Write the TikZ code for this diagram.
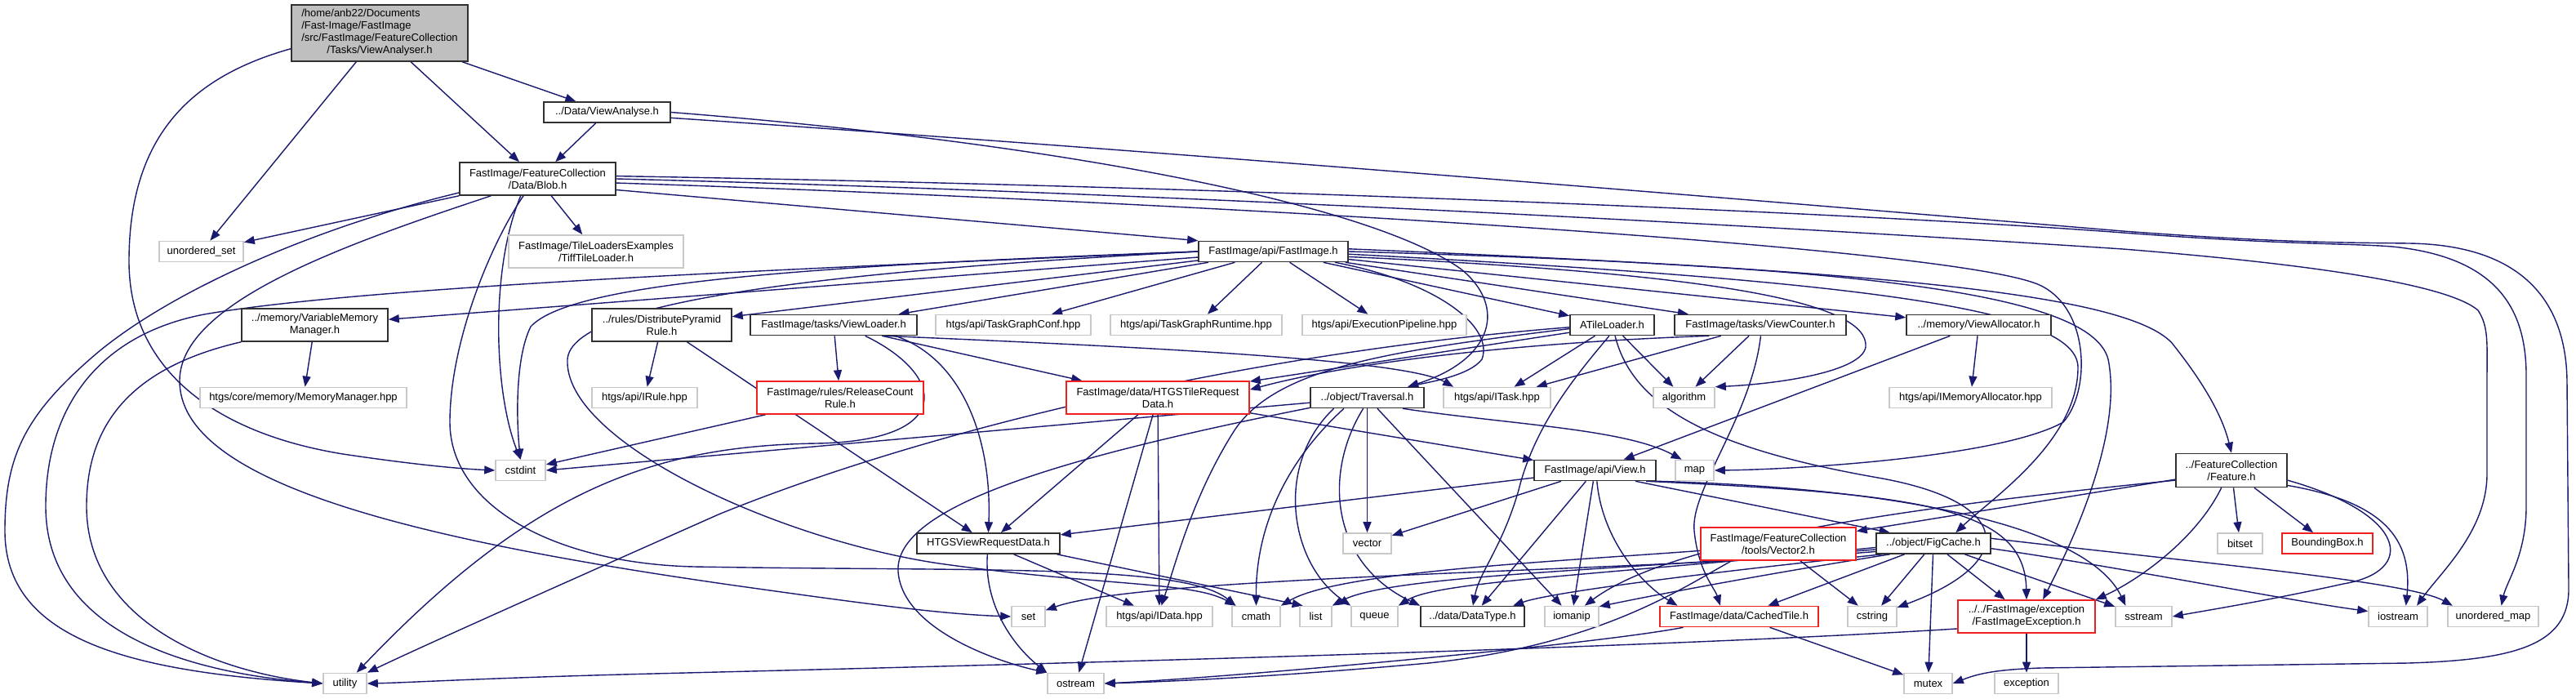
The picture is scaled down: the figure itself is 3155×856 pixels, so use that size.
\documentclass[tikz,border=0pt]{standalone}
\usepackage{fontspec}
\setmainfont{Liberation Sans}
\usetikzlibrary{arrows.meta}
\definecolor{edgeblue}{HTML}{191970}
\definecolor{boxgray}{HTML}{BFBFBF}
\definecolor{lightframe}{HTML}{C8C8C8}
\definecolor{darkframe}{HTML}{303030}
\definecolor{redframe}{HTML}{F02020}
\newcommand\nodefont{\fontsize{13}{15}\selectfont}
\pgfdeclarelayer{paper}
\pgfdeclarelayer{edges}
\pgfsetlayers{paper,edges,main}
\tikzset{
  base/.style={rectangle, inner sep=0pt, align=center, font=\nodefont, line width=1.6pt, fill=white},
  nb/.style={base, draw=darkframe},
  ng/.style={base, draw=lightframe},
  nr/.style={base, draw=redframe},
  sz/.style 2 args={minimum width=#1pt, minimum height=#2pt},
  e/.style={draw=edgeblue, line width=1.4pt, line join=round, -{Triangle[length=13pt,width=10pt]}},
}
\begin{document}
\begin{tikzpicture}[x=1pt,y=-1pt]
\begin{pgfonlayer}{paper}
\fill[white] (0,0) rectangle (3155,856);
\end{pgfonlayer}
\useasboundingbox (0,0) rectangle (3155,856);

% row 0-3
\node[nb,fill=boxgray,sz={216}{69}] (root) at (465,40.5) {\begin{tabular}{@{}l@{}}/home/anb22/Documents\\/Fast-Image/FastImage\\/src/FastImage/FeatureCollection\\\multicolumn{1}{@{}c@{}}{/Tasks/ViewAnalyser.h}\end{tabular}};
\node[nb,sz={155}{25}] (va) at (743.5,137.5) {../Data/ViewAnalyse.h};
\node[nb,sz={191}{40}] (blob) at (658.5,219) {FastImage/FeatureCollection\\/Data/Blob.h};
\node[ng,sz={103}{25}] (uset) at (246.5,308) {unordered\_set};
\node[ng,sz={214}{40}] (tiff) at (730,308) {FastImage/TileLoadersExamples\\/TiffTileLoader.h};
\node[nb,sz={183}{25}] (fi) at (1559.5,308) {FastImage/api/FastImage.h};
% row 4
\node[nb,sz={179}{40}] (vmm) at (385.5,398) {../memory/VariableMemory\\Manager.h};
\node[nb,sz={171}{40}] (dpr) at (810.5,398) {../rules/DistributePyramid\\Rule.h};
\node[nb,sz={204}{25}] (vl) at (1021,398) {FastImage/tasks/ViewLoader.h};
\node[ng,sz={190}{25}] (tgc) at (1241,398) {htgs/api/TaskGraphConf.hpp};
\node[ng,sz={210}{25}] (tgr) at (1465,398) {htgs/api/TaskGraphRuntime.hpp};
\node[ng,sz={201}{25}] (ep) at (1695.5,398) {htgs/api/ExecutionPipeline.hpp};
\node[nb,sz={103}{25}] (atl) at (1974.5,398) {ATileLoader.h};
\node[nb,sz={210}{25}] (vc) at (2156,398) {FastImage/tasks/ViewCounter.h};
\node[nb,sz={177}{25}] (valloc) at (2423.5,398) {../memory/ViewAllocator.h};
% row 5
\node[ng,sz={253}{25}] (mm) at (371.5,487) {htgs/core/memory/MemoryManager.hpp};
\node[ng,sz={129}{25}] (irule) at (789.5,487) {htgs/api/IRule.hpp};
\node[nr,sz={204}{40}] (rcr) at (1029,487) {FastImage/rules/ReleaseCount\\Rule.h};
\node[nr,sz={224}{40}] (htr) at (1418,487) {FastImage/data/HTGSTileRequest\\Data.h};
\node[nb,sz={139}{25}] (trav) at (1674.5,487) {../object/Traversal.h};
\node[ng,sz={131}{25}] (itask) at (1833.5,487) {htgs/api/ITask.hpp};
\node[ng,sz={75}{25}] (algo) at (2062.5,487) {algorithm};
\node[ng,sz={199}{25}] (ima) at (2413.5,487) {htgs/api/IMemoryAllocator.hpp};
% row 6
\node[ng,sz={61}{25}] (cstdint) at (637.5,576) {cstdint};
\node[nb,sz={149}{25}] (view) at (1953.5,576) {FastImage/api/View.h};
\node[ng,sz={47}{25}] (map) at (2075.5,576) {map};
\node[nb,sz={136}{41}] (feat) at (2733,576) {../FeatureCollection\\/Feature.h};
% row 7
\node[nb,sz={175}{25}] (hvrd) at (1210.5,665.5) {HTGSViewRequestData.h};
\node[ng,sz={59}{25}] (vector) at (1674.5,665.5) {vector};
\node[nr,sz={190}{40}] (vec2) at (2178,666) {FastImage/FeatureCollection\\/tools/Vector2.h};
\node[nb,sz={140}{25}] (fig) at (2368,665.5) {../object/FigCache.h};
\node[ng,sz={55}{25}] (bitset) at (2743.5,665.5) {bitset};
\node[nr,sz={111}{25}] (bbox) at (2850.5,665.5) {BoundingBox.h};
% row 8
\node[ng,sz={41}{25}] (set) at (1259.5,755) {set};
\node[ng,sz={130}{25}] (idata) at (1420,755) {htgs/api/IData.hpp};
\node[ng,sz={59}{25}] (cmath) at (1538.5,755) {cmath};
\node[ng,sz={39}{25}] (list) at (1611.5,755) {list};
\node[ng,sz={57}{25}] (queue) at (1683.5,755) {queue};
\node[nb,sz={127}{25}] (dtype) at (1803.5,755) {../data/DataType.h};
\node[ng,sz={66}{25}] (iomanip) at (1925,755) {iomanip};
\node[nr,sz={194}{25}] (ctile) at (2130,755) {FastImage/data/CachedTile.h};
\node[ng,sz={60}{25}] (cstring) at (2293,755) {cstring};
\node[nr,sz={168}{40}] (fie) at (2482,755) {../../FastImage/exception\\/FastImageException.h};
\node[ng,sz={69}{25}] (sstream) at (2625.5,755) {sstream};
\node[ng,sz={72}{25}] (iostream) at (2937,755) {iostream};
\node[ng,sz={111}{25}] (umap) at (3053.5,755) {unordered\_map};
% row 9
\node[ng,sz={53}{25}] (utility) at (422.5,837) {utility};
\node[ng,sz={69}{25}] (ostream) at (1317.5,837) {ostream};
\node[ng,sz={59}{25}] (mutex) at (2361.5,837) {mutex};
\node[ng,sz={78}{25}] (exception) at (2482,837) {exception};

\begin{pgfonlayer}{edges}
% root
\draw[e] (root) -- (va);
\draw[e] (root) -- (blob);
\draw[e] (root) -- (uset);
\draw[e] (root.190) .. controls (230,95) and (158,170) .. (158,320) .. controls (158,450) and (260,530) .. (420,556) .. controls (500,568) and (560,574) .. (cstdint.west);
% va
\draw[e] (va) -- (blob);
\draw[e] (va.east) .. controls (1300,175) and (1680,250) .. (1790,330) .. controls (1845,375) and (1830,440) .. (trav.15);
\draw[e] (va.-5) .. controls (1500,190) and (2300,258) .. (2600,283) .. controls (2800,298) and (2880,297) .. (2950,298) .. controls (3100,300) and (3144,380) .. (3144,470) -- (3146,720) .. controls (3147,790) and (3080,808) .. (2950,812) -- (2500,818) .. controls (2440,820) and (2420,826) .. (mutex.east);
% blob
\draw[e] (blob) -- (uset);
\draw[e] (blob) -- (tiff);
\draw[e] (blob.-8) -- (fi.north west);
\draw[e] (blob.-135) .. controls (600,330) and (605,480) .. (cstdint.north);
\draw[e] (blob.-130) .. controls (600,300) and (551,420) .. (551,517) .. controls (551,620) and (680,690) .. (850,694) .. controls (1200,700) and (1450,690) .. (cmath.152);
\draw[e] (blob.-160) .. controls (420,300) and (222,370) .. (220,465) .. controls (218,590) and (500,660) .. (900,717) .. controls (1050,738) and (1150,752) .. (set.west);
\draw[e] (blob.-170) .. controls (380,280) and (200,360) .. (110,440) .. controls (30,510) and (6,560) .. (6,650) .. controls (6,780) and (150,822) .. (utility.west);
\draw[e] (blob.2) .. controls (1500,228) and (2300,262) .. (2600,285) .. controls (2800,300) and (2880,298) .. (2930,302) .. controls (3060,315) and (3094,380) .. (3094,460) -- (3094,620) .. controls (3094,680) and (3070,712) .. (umap.53);
\draw[e] (blob.0) .. controls (1500,238) and (2300,285) .. (2600,305) .. controls (2850,325) and (3000,350) .. (3035,380) .. controls (3048,400) and (3046,420) .. (3046,460) -- (3046,580) .. controls (3046,650) and (2990,700) .. (iostream.30);
\draw[e] (blob.-3) .. controls (1400,245) and (2400,300) .. (2500,350) .. controls (2560,380) and (2560,480) .. (2527,517) .. controls (2450,560) and (2200,575) .. (map.east);
% fi
\draw[e] (fi) -- (vmm);
\draw[e] (fi) -- (dpr);
\draw[e] (fi) -- (vl);
\draw[e] (fi) -- (tgc);
\draw[e] (fi) -- (tgr);
\draw[e] (fi) -- (ep);
\draw[e] (fi) -- (atl);
\draw[e] (fi) -- (vc);
\draw[e] (fi) -- (valloc);
\draw[e] (fi.west) .. controls (1000,328) and (450,350) .. (250,385) .. controls (120,410) and (56,500) .. (56,620) .. controls (56,770) and (220,823) .. (utility.west);
\draw[e] (fi.west) .. controls (1000,325) and (700,345) .. (650,400) .. controls (630,440) and (633,520) .. (cstdint.north);
\draw[e] (fi.west) .. controls (1000,333) and (700,370) .. (695,440) .. controls (690,540) and (950,660) .. (1150,690) .. controls (1350,718) and (1460,712) .. (cmath.152);
\draw[e] (fi.-4) .. controls (2100,335) and (2290,370) .. (2285,425) .. controls (2280,455) and (2180,470) .. (algo.north east);
\draw[e] (fi.2) .. controls (2250,330) and (2600,355) .. (2660,420) .. controls (2700,470) and (2722,510) .. (feat.north);
\draw[e] (fi.0) .. controls (2250,325) and (2560,355) .. (2582,440) .. controls (2600,530) and (2540,660) .. (fie.46);
\draw[e] (fi.-2) .. controls (2300,345) and (2545,380) .. (2545,450) .. controls (2545,540) and (2440,610) .. (fig.26);
\draw[e] (fi.-10) .. controls (1760,345) and (1830,400) .. (1815,440) .. controls (1800,460) and (1750,468) .. (trav.15);
% vmm, dpr, rcr
\draw[e] (vmm) -- (mm);
\draw[e] (vmm.south west) .. controls (160,450) and (106,520) .. (106,620) .. controls (106,760) and (260,822) .. (utility.west);
\draw[e] (dpr) -- (irule);
\draw[e] (dpr) -- (hvrd);
\draw[e] (rcr) -- (cstdint);
% vl
\draw[e] (vl) -- (rcr);
\draw[e] (vl) -- (htr);
\draw[e] (vl.-10) .. controls (1180,440) and (1215,540) .. (hvrd.north);
\draw[e] (vl.-12) .. controls (1400,425) and (1720,440) .. (itask.166);
\draw[e] (vl.-19) .. controls (1160,460) and (1170,540) .. (1000,543) .. controls (800,546) and (650,600) .. (utility.43);
% atl
\draw[e] (atl.190) -- (htr.10);
\draw[e] (atl.185) .. controls (1700,430) and (1560,450) .. (1510,530) .. controls (1460,610) and (1440,690) .. (idata.80);
\draw[e] (atl.183) .. controls (1550,430) and (1150,520) .. (880,630) .. controls (700,710) and (520,790) .. (utility.north east);
\draw[e] (atl) -- (itask);
\draw[e] (atl) -- (algo);
\draw[e] (atl.-105) .. controls (1930,460) and (1880,520) .. (1860,600) .. controls (1840,670) and (1812,700) .. (dtype.88);
\draw[e] (atl.-75) .. controls (2000,500) and (2100,550) .. (2300,585) .. controls (2470,615) and (2470,690) .. (cstring.20);
% vc
\draw[e] (vc.-168) .. controls (1850,420) and (1650,445) .. (htr.5);
\draw[e] (vc) -- (itask);
\draw[e] (vc) -- (algo);
\draw[e] (vc.-88) .. controls (2145,510) and (2070,600) .. (2075,650) .. controls (2080,700) and (2100,720) .. (ctile.150);
% valloc
\draw[e] (valloc) -- (view);
\draw[e] (valloc) -- (ima);
% htr
\draw[e] (htr) -- (hvrd);
\draw[e] (htr) -- (idata);
\draw[e] (htr) -- (ostream);
\draw[e] (htr) -- (view);
% trav
\draw[e] (trav.-175) -- (cstdint.east);
\draw[e] (trav.-17) .. controls (1850,520) and (1990,525) .. (map.140);
\draw[e] (trav) -- (vector);
\draw[e] (trav.-155) .. controls (1580,560) and (1538,640) .. (cmath.north);
\draw[e] (trav.-162) .. controls (1560,570) and (1580,690) .. (queue.north west);
\draw[e] (trav.-110) .. controls (1620,580) and (1630,690) .. (dtype.north west);
\draw[e] (trav) -- (iomanip);
\draw[e] (trav.-170) .. controls (1300,560) and (1095,620) .. (1100,700) .. controls (1105,770) and (1220,810) .. (ostream.north west);
% hvrd
\draw[e] (hvrd) -- (idata);
\draw[e] (hvrd.-9.5) -- (list.140);
\draw[e] (hvrd.-95) .. controls (1205,740) and (1240,790) .. (ostream.north west);
% view
\draw[e] (view) -- (hvrd);
\draw[e] (view) -- (vector);
\draw[e] (view) -- (dtype);
\draw[e] (view) -- (iomanip);
\draw[e] (view.-80) .. controls (1962,660) and (2010,715) .. (ctile.170);
\draw[e] (view.-15) -- (fig.166);
\draw[e] (view.-12) .. controls (2350,605) and (2480,620) .. (fie.north);
\draw[e] (view.-10) .. controls (2350,598) and (2560,650) .. (sstream.149);
% feat
\draw[e] (feat) -- (vec2);
\draw[e] (feat.190) .. controls (2350,620) and (2050,660) .. (iomanip.40);
\draw[e] (feat) -- (bitset);
\draw[e] (feat) -- (bbox);
\draw[e] (feat.-120) .. controls (2690,660) and (2620,710) .. (fie.north east);
\draw[e] (feat.-10) .. controls (2950,630) and (2960,700) .. (2870,715) .. controls (2780,735) and (2700,748) .. (sstream.east);
\draw[e] (feat.-15) .. controls (2920,615) and (2955,660) .. (iostream.54);
% vec2
\draw[e] (vec2) -- (cstring);
\draw[e] (vec2.-175) .. controls (1900,688) and (1640,700) .. (cmath.north east);
\draw[e] (vec2.-160) .. controls (2060,720) and (1960,790) .. (1750,812) .. controls (1550,830) and (1420,835) .. (ostream.east);
% ctile
\draw[e] (ctile.-169) .. controls (1950,790) and (1500,830) .. (ostream.east);
\draw[e] (ctile) -- (mutex);
% fie
\draw[e] (fie.-170) .. controls (2000,795) and (1200,815) .. (800,825) .. controls (600,830) and (500,836) .. (utility.east);
\draw[e] (fie) -- (exception);
% fig
\draw[e] (fig) -- (mutex);
\draw[e] (fig) -- (cstring);
\draw[e] (fig) -- (fie);
\draw[e] (fig) -- (sstream);
\draw[e] (fig) -- (ctile);
\draw[e] (fig.-5) .. controls (2600,695) and (2800,735) .. (iostream.170);
\draw[e] (fig.5) .. controls (2700,690) and (2950,712) .. (umap.165);
\draw[e] (fig.-172) .. controls (2000,700) and (1400,705) .. (set.20);
\draw[e] (fig.-174) .. controls (1950,700) and (1700,705) .. (list.north east);
\draw[e] (fig.-176) .. controls (1950,705) and (1760,712) .. (queue.north east);
\draw[e] (fig.-168) .. controls (2100,700) and (1900,725) .. (dtype.15);
\draw[e] (fig.-166) .. controls (2150,705) and (2020,730) .. (iomanip.20);
\end{pgfonlayer}
\end{tikzpicture}
\end{document}
